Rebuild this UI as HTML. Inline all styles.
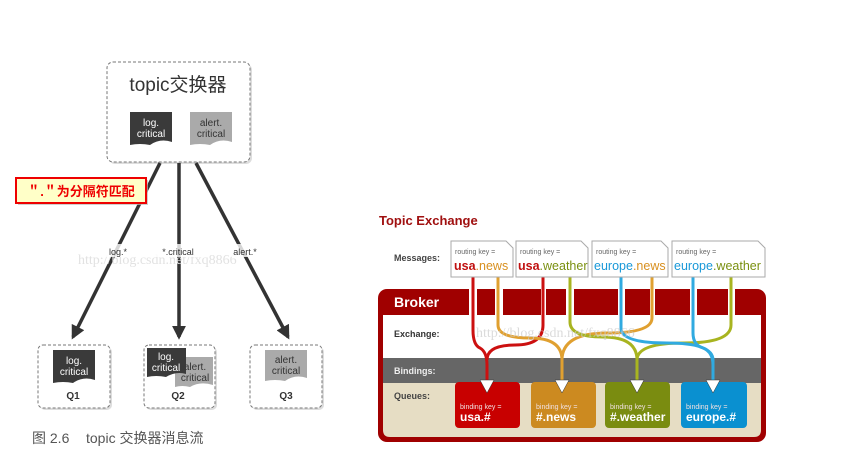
<!DOCTYPE html>
<html><head><meta charset="utf-8"><style>
html,body{margin:0;padding:0;background:#fff;width:841px;height:462px;overflow:hidden}
svg{display:block}
</style></head><body>
<svg width="841" height="462" viewBox="0 0 841 462" xmlns="http://www.w3.org/2000/svg" font-family="Liberation Sans, Noto Sans CJK SC, sans-serif">
<defs>
<marker id="ah" viewBox="0 0 10 10" refX="8" refY="5" markerWidth="4" markerHeight="4" orient="auto"><path d="M0,0 L10,5 L0,10 z" fill="#333"/></marker>
</defs>
<!-- LEFT DIAGRAM -->
<g>
<rect x="109" y="64" width="143" height="100" rx="6" fill="#bbb" opacity="0.5"/>
<rect x="107" y="62" width="143" height="100" rx="6" fill="#fff" stroke="#777" stroke-dasharray="3,2"/>
<text x="178" y="91" font-size="19" text-anchor="middle" fill="#333">topic交换器</text>
<path d="M130,112 H172 V142 Q160,138 150,145 Q140,143 130,145 Z" fill="#3a3a3a"/>
<text x="151" y="126" font-size="10" text-anchor="middle" fill="#fff">log.</text>
<text x="151" y="137" font-size="10" text-anchor="middle" fill="#fff">critical</text>
<path d="M190,112 H232 V142 Q220,138 210,145 Q200,143 190,145 Z" fill="#aaa"/>
<text x="211" y="126" font-size="10" text-anchor="middle" fill="#333">alert.</text>
<text x="211" y="137" font-size="10" text-anchor="middle" fill="#333">critical</text>

<line x1="160" y1="163" x2="73" y2="337" stroke="#333" stroke-width="3.5" marker-end="url(#ah)"/>
<line x1="179" y1="163" x2="179" y2="337" stroke="#333" stroke-width="3.5" marker-end="url(#ah)"/>
<line x1="196" y1="163" x2="288" y2="337" stroke="#333" stroke-width="3.5" marker-end="url(#ah)"/>

<text x="78" y="264" font-size="14" fill="#e2e2e2" font-family="Liberation Serif, serif">http://blog.csdn.net/fxq8866</text>
<rect x="105" y="244" width="26" height="13" fill="#fff" opacity="0.8"/>
<text x="118" y="255" font-size="9" text-anchor="middle" fill="#333">log.*</text>
<rect x="155" y="244" width="46" height="13" fill="#fff" opacity="0.8"/>
<text x="178" y="255" font-size="9" text-anchor="middle" fill="#333">*.critical</text>
<rect x="230" y="244" width="32" height="13" fill="#fff" opacity="0.8"/>
<text x="245" y="255" font-size="9" text-anchor="middle" fill="#333">alert.*</text>

<rect x="18" y="180" width="130" height="25" fill="#bbb" opacity="0.7"/>
<rect x="16" y="178" width="130" height="25" fill="#ffffc8" stroke="#e00" stroke-width="2"/>
<text x="81" y="196" font-size="13" font-weight="bold" text-anchor="middle" fill="#e00">＂.＂为分隔符匹配</text>

<!-- queues -->
<rect x="40" y="347" width="72" height="63" rx="5" fill="#bbb" opacity="0.5"/>
<rect x="38" y="345" width="72" height="63" rx="5" fill="#fff" stroke="#777" stroke-dasharray="3,2"/>
<path d="M53,350 H95 V380 Q83,376 73,383 Q63,381 53,383 Z" fill="#3a3a3a"/>
<text x="74" y="364" font-size="10" text-anchor="middle" fill="#fff">log.</text>
<text x="74" y="375" font-size="10" text-anchor="middle" fill="#fff">critical</text>
<text x="73" y="399" font-size="10" font-weight="bold" text-anchor="middle" fill="#333">Q1</text>

<rect x="146" y="347" width="71" height="63" rx="5" fill="#bbb" opacity="0.5"/>
<rect x="144" y="345" width="71" height="63" rx="5" fill="#fff" stroke="#777" stroke-dasharray="3,2"/>
<path d="M175,357 H213 V385 Q200,381 190,387 Q182,385 175,387 Z" fill="#aaa"/>
<text x="195" y="370" font-size="10" text-anchor="middle" fill="#333">alert.</text>
<text x="195" y="381" font-size="10" text-anchor="middle" fill="#333">critical</text>
<path d="M147,348 H186 V374 Q176,371 166,377 Q156,375 147,377 Z" fill="#3a3a3a"/>
<text x="166" y="360" font-size="10" text-anchor="middle" fill="#fff">log.</text>
<text x="166" y="371" font-size="10" text-anchor="middle" fill="#fff">critical</text>
<text x="178" y="399" font-size="10" font-weight="bold" text-anchor="middle" fill="#333">Q2</text>

<rect x="252" y="347" width="72" height="63" rx="5" fill="#bbb" opacity="0.5"/>
<rect x="250" y="345" width="72" height="63" rx="5" fill="#fff" stroke="#777" stroke-dasharray="3,2"/>
<path d="M265,350 H307 V378 Q295,374 285,381 Q275,379 265,381 Z" fill="#aaa"/>
<text x="286" y="363" font-size="10" text-anchor="middle" fill="#333">alert.</text>
<text x="286" y="374" font-size="10" text-anchor="middle" fill="#333">critical</text>
<text x="286" y="399" font-size="10" font-weight="bold" text-anchor="middle" fill="#333">Q3</text>

<text x="32" y="443" font-size="14" fill="#555">图 2.6</text>
<text x="86" y="443" font-size="14" fill="#555">topic 交换器消息流</text>
</g>

<!-- RIGHT DIAGRAM -->
<g>
<text x="379" y="225" font-size="13" font-weight="bold" fill="#a01010">Topic Exchange</text>
<text x="394" y="261" font-size="9" font-weight="bold" fill="#444">Messages:</text>

<rect x="378" y="289" width="388" height="153" rx="9" fill="#a00000"/>
<rect x="383" y="315" width="378" height="43" fill="#fff"/>
<rect x="383" y="358" width="378" height="25" fill="#666"/>
<path d="M383,383 H761 V430 Q761,437 754,437 H390 Q383,437 383,430 Z" fill="#e6ddc4"/>
<g fill="#fff">
<rect x="469" y="289" width="8" height="26"/>
<rect x="495" y="289" width="8" height="26"/>
<rect x="541" y="289" width="5" height="26"/>
<rect x="566" y="289" width="8" height="26"/>
<rect x="618" y="289" width="7" height="26"/>
<rect x="650" y="289" width="5" height="26"/>
<rect x="690" y="289" width="7" height="26"/>
<rect x="728" y="289" width="7" height="26"/>
</g>
<text x="394" y="307" font-size="14" font-weight="bold" fill="#fff">Broker</text>
<text x="394" y="337" font-size="9" font-weight="bold" fill="#333">Exchange:</text>
<text x="394" y="374" font-size="9" font-weight="bold" fill="#eee">Bindings:</text>
<text x="394" y="399" font-size="9" font-weight="bold" fill="#444">Queues:</text>

<rect x="455" y="382" width="65" height="46" rx="4" fill="#c80000"/>
<rect x="531" y="382" width="65" height="46" rx="4" fill="#cc8a20"/>
<rect x="605" y="382" width="65" height="46" rx="4" fill="#7a8c10"/>
<rect x="681" y="382" width="66" height="46" rx="4" fill="#0a90d0"/>
<g font-size="7" fill="#f0e0e0"><text x="460" y="409">binding key =</text><text x="536" y="409">binding key =</text><text x="610" y="409">binding key =</text><text x="686" y="409">binding key =</text></g>
<g font-size="12" font-weight="bold" fill="#fff"><text x="460" y="421">usa.#</text><text x="536" y="421">#.news</text><text x="610" y="421">#.weather</text><text x="686" y="421">europe.#</text></g>

<g fill="none" stroke-width="3">
<path d="M473,277 V330 Q473,345 480,348 Q487,352 487,365 V380" stroke="#cc1010"/>
<path d="M543,277 V325 Q543,345 515,345 Q487,345 487,360" stroke="#cc1010"/>
<path d="M498,277 V325 Q498,338 530,338 Q562,338 562,360 V380" stroke="#e0a030"/>
<path d="M652,277 V318 Q652,333 607,333 Q562,333 562,360" stroke="#e0a030"/>
<path d="M570,277 V322 Q570,337 603,337 Q637,337 637,360 V380" stroke="#a8b420"/>
<path d="M731,277 V325 Q731,343 684,343 Q637,343 637,360" stroke="#a8b420"/>
<path d="M621,277 V328 Q621,343 667,343 Q713,343 713,360 V380" stroke="#30aae0"/>
<path d="M693,277 V333 Q693,345 703,348 Q713,352 713,365 V380" stroke="#30aae0"/>
</g>
<g fill="#fff" stroke="#333" stroke-width="0.5">
<path d="M480,380 H494 L487,393 Z"/><path d="M555,380 H569 L562,393 Z"/><path d="M630,380 H644 L637,393 Z"/><path d="M706,380 H720 L713,393 Z"/>
</g>
<text x="476" y="337" font-size="14" fill="#ccc" opacity="0.7" font-family="Liberation Serif, serif">http://blog.csdn.net/fxq8866</text>

<g fill="#fff" stroke="#aaa">
<path d="M451,241 H506 L513,248 V277 H451 Z"/>
<path d="M516,241 H581 L588,248 V277 H516 Z"/>
<path d="M592,241 H661 L668,248 V277 H592 Z"/>
<path d="M672,241 H758 L765,248 V277 H672 Z"/>
</g>
<g font-size="7" fill="#666"><text x="455" y="254">routing key =</text><text x="520" y="254">routing key =</text><text x="596" y="254">routing key =</text><text x="676" y="254">routing key =</text></g>
<g font-size="12.5">
<text x="454" y="270"><tspan fill="#c01010" font-weight="bold">usa</tspan><tspan fill="#d89020">.news</tspan></text>
<text x="518" y="270"><tspan fill="#c01010" font-weight="bold">usa</tspan><tspan fill="#7a9010">.weather</tspan></text>
<text x="594" y="270"><tspan fill="#1898d8">europe</tspan><tspan fill="#d89020">.news</tspan></text>
<text x="674" y="270"><tspan fill="#1898d8">europe</tspan><tspan fill="#7a9010">.weather</tspan></text>
</g>
</g>
</svg>
</body></html>
